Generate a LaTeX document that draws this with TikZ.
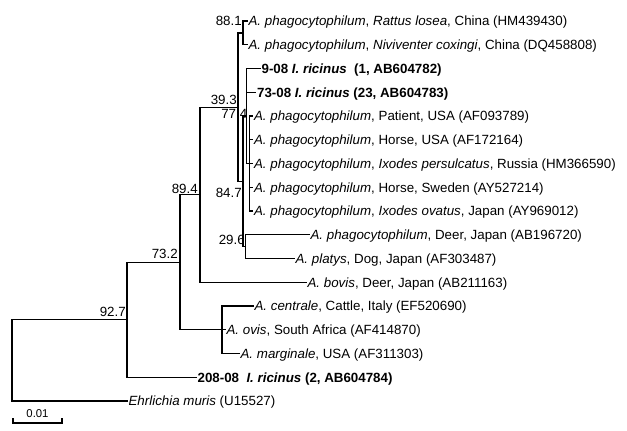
\documentclass[tikz,border=0pt]{standalone}
\usepackage{fontspec}
\setmainfont{Liberation Sans}
\begin{document}
\begin{tikzpicture}[x=0.75pt,y=-0.75pt,
  br/.style={line width=0.9pt, line cap=rect},
  leaf/.style={anchor=west, inner xsep=1pt, inner ysep=0pt, font=\fontsize{10}{11}\selectfont, text height=7.2pt, text depth=0pt},
  boot/.style={anchor=east, inner sep=0pt, font=\fontsize{10}{11}\selectfont}]
\useasboundingbox (0,0) rectangle (627,430);
\fill[white] (0,0) rectangle (627,430);
% internal nodes
\coordinate (root) at (12,360.4);
\coordinate (n92) at (127,319.7);
\coordinate (n73) at (180,262.2);
\coordinate (n89) at (200,194.7);
\coordinate (ncen) at (222,329.75);
\coordinate (n39) at (238,107.1);
\coordinate (n88) at (243,32.9);
\coordinate (n84) at (243,181.3);
\coordinate (n77) at (246.5,116);
\coordinate (nin) at (249.5,163.5);
\coordinate (n29) at (245.5,246.6);
% leaves
\node[leaf] (l1) at (247,21) {\textit{A. phagocytophilum}, \textit{Rattus losea}, China (HM439430)};
\node[leaf] (l2) at (247,44.75) {\textit{A. phagocytophilum}, \textit{Niviventer coxingi}, China (DQ458808)};
\node[leaf] (l3) at (260,68.5) {\bfseries 9-08 \textit{I. ricinus}\ \ (1, AB604782)};
\node[leaf] (l4) at (255.5,92.25) {\bfseries 73-08 \textit{I. ricinus} (23, AB604783)};
\node[leaf] (l5) at (252.5,116) {\textit{A. phagocytophilum}, Patient, USA (AF093789)};
\node[leaf] (l6) at (252.5,139.75) {\textit{A. phagocytophilum}, Horse, USA (AF172164)};
\node[leaf] (l7) at (252.5,163.5) {\textit{A. phagocytophilum}, \textit{Ixodes persulcatus}, Russia (HM366590)};
\node[leaf] (l8) at (252.5,187.25) {\textit{A. phagocytophilum}, Horse, Sweden (AY527214)};
\node[leaf] (l9) at (252.5,211) {\textit{A. phagocytophilum}, \textit{Ixodes ovatus}, Japan (AY969012)};
\node[leaf] (l10) at (309,234.75) {\textit{A. phagocytophilum}, Deer, Japan (AB196720)};
\node[leaf] (l11) at (294,258.5) {\textit{A. platys}, Dog, Japan (AF303487)};
\node[leaf] (l12) at (306,282.25) {\textit{A. bovis}, Deer, Japan (AB211163)};
\node[leaf] (l13) at (253,306) {\textit{A. centrale}, Cattle, Italy (EF520690)};
\node[leaf] (l14) at (225,329.75) {\textit{A. ovis}, South Africa (AF414870)};
\node[leaf] (l15) at (239,353.5) {\textit{A. marginale}, USA (AF311303)};
\node[leaf] (l16) at (196,377.25) {\bfseries 208-08\ \ \textit{I. ricinus} (2, AB604784)};
\node[leaf] (l17) at (127,401) {\textit{Ehrlichia muris} (U15527)};
% bootstrap values
\node[boot] (b88) at (242,21) {88.1};
\node[boot] (b39) at (237,100) {39.3};
\node[boot] (b77) at (247.5,114) {77.4};
\node[boot] (b84) at (242,193) {84.7};
\node[boot] (b29) at (245,240) {29.6};
\node[boot] (b89) at (198,189) {89.4};
\node[boot] (b73) at (178,254) {73.2};
\node[boot] (b92) at (126,312) {92.7};
% branches
\draw[br] (root) |- (n92);
\draw[br] (root) |- (l17.west);
\draw[br] (n92) |- (n73);
\draw[br] (n92) |- (l16.west);
\draw[br] (n73) |- (n89);
\draw[br] (n73) |- (ncen);
\draw[br] (ncen) |- (l13.west);
\draw[br] (ncen) |- (l14.west);
\draw[br] (ncen) |- (l15.west);
\draw[br] (n89) |- (n39);
\draw[br] (n89) |- (l12.west);
\draw[br] (n39) |- (n88);
\draw[br] (n39) |- (n84);
\draw[br] (n88) |- (l1.west);
\draw[br] (n88) |- (l2.west);
\draw[br] (n84) |- (n77);
\draw[br] (n84) |- (n29);
\draw[br] (n77) |- (l3.west);
\draw[br] (n77) |- (l4.west);
\draw[br] (n77) |- (nin);
\draw[br] (nin) |- (l5.west);
\draw[br] (nin) |- (l6.west);
\draw[br] (nin) |- (l7.west);
\draw[br] (nin) |- (l8.west);
\draw[br] (nin) |- (l9.west);
\draw[br] (n29) |- (l10.west);
\draw[br] (n29) |- (l11.west);
% scale bar
\coordinate (sa) at (13,423);
\coordinate (sb) at (62,423);
\draw[br] ([yshift=3pt]sa) -- (sa) -- (sb) -- ([yshift=3pt]sb);
\node[font=\fontsize{8.5}{10}\selectfont, inner sep=0pt] (sl) at (37.5,414) {0.01};
\end{tikzpicture}
\end{document}
